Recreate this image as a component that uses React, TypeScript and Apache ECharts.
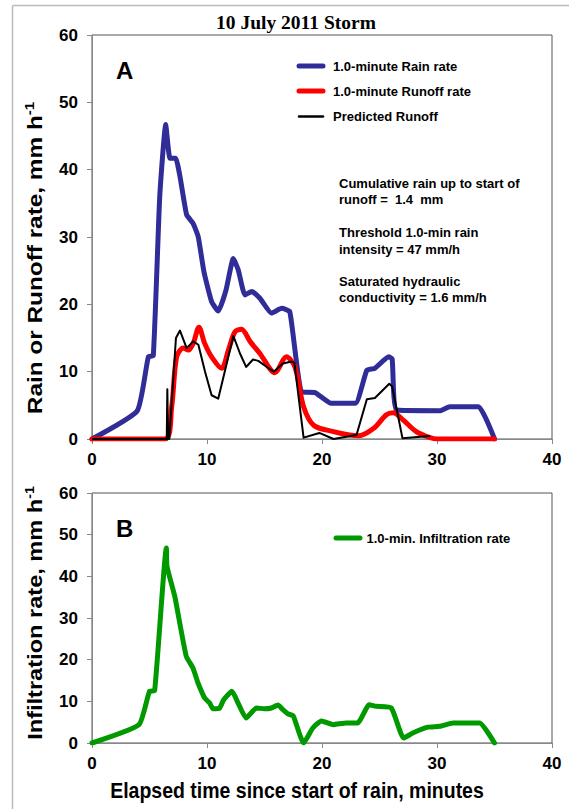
import React, { useEffect, useRef } from "react";
import * as echarts from "echarts";

const xTicks = [0, 10, 20, 30, 40];
const yTicks = [0, 10, 20, 30, 40, 50, 60];

const rainRate: [number, number][] = [
  [0, 0], [3.94, 4.2], [4.9, 12.2], [5.33, 12.4], [5.89, 36], [6.41, 46.7], [6.78, 41.7],
  [7.27, 41.7], [7.65, 39], [8.23, 33.3], [8.8, 32], [9.24, 30], [9.74, 24.8], [10.4, 20.4],
  [10.98, 19.0], [11.65, 22.1], [12.29, 26.8], [12.72, 25.1], [13.3, 21.4], [13.9, 21.9],
  [14.6, 20.9], [15.6, 18.7], [16.5, 19.4], [17.2, 18.9], [18.23, 7.0], [19.4, 6.9],
  [20.8, 5.3], [22.9, 5.3], [23.9, 10.2], [24.6, 10.5], [25.8, 12.2], [26.1, 11.9],
  [26.5, 4.3], [30.26, 4.2], [31.1, 4.8], [33.6, 4.8], [35.0, 0],
];

const runoffRate: [number, number][] = [
  [0, 0], [6.35, 0], [6.93, 4.8], [7.36, 12.2], [7.94, 13.5], [8.38, 13.2], [8.8, 14.2],
  [9.3, 16.6], [9.8, 14.2], [10.4, 12.2], [11.27, 10.5], [11.86, 13.2], [12.43, 15.9],
  [13.0, 16.3], [13.74, 14.5], [14.6, 12.7], [15.9, 9.85], [16.9, 12.2], [17.65, 10.7],
  [18.4, 4.8], [19.3, 2.0], [21.0, 1.1], [22.4, 0.6], [23.2, 0.5], [24.5, 1.6], [25.6, 3.6],
  [26.2, 3.9], [27.07, 2.8], [28.2, 1.1], [29.4, 0.2], [30, 0], [35, 0],
];

const predictedRunoff: [number, number][] = [
  [0, 0], [6.5, 0], [6.55, 7.4], [6.62, 0], [6.72, 0], [7.3, 15.0], [7.65, 16.1], [8.23, 13.5],
  [8.8, 14.5], [9.25, 14.0], [9.83, 10.0], [10.4, 6.5], [10.98, 6.0], [12.29, 15.3],
  [12.87, 12.7], [13.4, 10.7], [14.0, 11.8], [14.46, 11.6], [15.2, 10.7], [15.8, 10.0],
  [16.6, 11.2], [17.36, 11.5], [17.6, 11.3], [18.4, 0.2], [19.77, 0.9], [21.0, 0],
  [23.0, 0.6], [23.9, 5.9], [24.6, 6.1], [25.85, 8.2], [26.1, 7.8], [27.0, 0.1], [29.4, 0.45],
];

const infiltrationRate: [number, number][] = [
  [0, 0], [4.09, 4.4], [5.0, 12.4], [5.45, 12.6], [6.47, 46.8], [6.52, 42.4], [7.2, 35.2],
  [7.63, 28.8], [8.2, 20.8], [8.78, 18.0], [9.22, 14.4], [9.8, 10.8], [10.23, 9.6],
  [10.52, 8.2], [11.1, 8.4], [11.45, 10.4], [12.17, 12.4], [12.7, 9.6], [13.4, 6.0],
  [14.3, 8.4], [15.0, 8.2], [15.6, 8.4], [16.17, 9.1], [16.6, 8.0], [17.04, 7.0],
  [17.5, 6.5], [18.4, 0], [19.2, 3.6], [19.95, 5.3], [20.96, 4.4], [22.1, 4.8], [23.1, 4.8],
  [24.1, 9.2], [24.7, 8.8], [26.03, 8.4], [27.1, 1.2], [27.9, 2.4], [29.2, 3.8],
  [30.23, 4.0], [31.4, 4.8], [33.7, 4.8], [35.0, 0],
];

const seriesNames = [
  "1.0-minute Rain rate",
  "1.0-minute Runoff rate",
  "Predicted Runoff",
  "1.0-min. Infiltration rate",
];

const notes = [
  "Cumulative rain up to start of",
  "runoff =  1.4  mm",
  "Threshold 1.0-min rain",
  "intensity = 47 mm/h",
  "Saturated hydraulic",
  "conductivity = 1.6 mm/h",
];

const BLUE = "#302D99";
const RED = "#FF0000";
const GREEN = "#009900";
const FONT = "'Liberation Sans', Arial, Helvetica, sans-serif";

export default function App() {
  const ref = useRef<HTMLDivElement>(null);

  useEffect(() => {
    if (!ref.current) return;
    const chart = echarts.init(ref.current, undefined, { renderer: "svg" });

    const xAxisBase = (gridIndex: number) => ({
      type: "value" as const,
      gridIndex,
      min: xTicks[0],
      max: xTicks[xTicks.length - 1],
      interval: 10,
      splitLine: { show: false },
      axisLine: { show: true, lineStyle: { color: "#888", width: 1 } },
      axisTick: { show: true, inside: false, length: 5, lineStyle: { color: "#888" } },
      axisLabel: { fontFamily: FONT, fontWeight: "bold", fontSize: 17, color: "#000", margin: 12 },
    });
    const yAxisBase = (gridIndex: number) => ({
      type: "value" as const,
      gridIndex,
      min: yTicks[0],
      max: yTicks[yTicks.length - 1],
      interval: 10,
      splitLine: { show: false },
      axisLine: { show: true, lineStyle: { color: "#888", width: 1 } },
      axisTick: { show: true, inside: false, length: 5, lineStyle: { color: "#888" } },
      axisLabel: { fontFamily: FONT, fontWeight: "bold", fontSize: 17, color: "#000", margin: 14 },
    });

    const legendA = [
      { y: 66, color: BLUE, w: 5 },
      { y: 91, color: RED, w: 5 },
      { y: 116.5, color: "#000", w: 2.5 },
    ];
    const noteY = [183, 199.5, 232.5, 249, 281, 297.5];

    const graphics: any[] = [
      { type: "line", shape: { x1: 12.5, y1: 5.5, x2: 569, y2: 5.5 }, style: { stroke: "#BBB", lineWidth: 1.5 } },
      { type: "line", shape: { x1: 12.5, y1: 5.5, x2: 12.5, y2: 809 }, style: { stroke: "#BBB", lineWidth: 1.5 } },
      {
        type: "text", x: 296, y: 22,
        style: { text: "10 July 2011 Storm", font: "bold 19.5px 'Liberation Serif', 'Times New Roman', serif", fill: "#000", textAlign: "center", textVerticalAlign: "middle" },
      },
      {
        type: "text", x: 116, y: 70.5,
        style: { text: "A", font: `bold 24px ${FONT}`, fill: "#000", textAlign: "left", textVerticalAlign: "middle" },
      },
      {
        type: "text", x: 116, y: 528.5,
        style: { text: "B", font: `bold 24px ${FONT}`, fill: "#000", textAlign: "left", textVerticalAlign: "middle" },
      },
      {
        type: "text", x: 35, y: 258, rotation: Math.PI / 2, scaleX: 1.16,
        style: {
          text: "Rain or Runoff rate, mm h{sup|-1}", fill: "#000",
          font: `bold 21px ${FONT}`, textAlign: "center", textVerticalAlign: "middle",
          rich: { sup: { fontFamily: FONT, fontWeight: "bold", fontSize: 13, verticalAlign: "top", lineHeight: 13 } },
          lineHeight: 24,
        },
      },
      {
        type: "text", x: 35, y: 613, rotation: Math.PI / 2, scaleX: 1.18,
        style: {
          text: "Infiltration rate, mm h{sup|-1}", fill: "#000",
          font: `bold 20px ${FONT}`, textAlign: "center", textVerticalAlign: "middle",
          rich: { sup: { fontFamily: FONT, fontWeight: "bold", fontSize: 12, verticalAlign: "top", lineHeight: 12 } },
          lineHeight: 23,
        },
      },
      {
        type: "text", x: 297, y: 790.5, scaleY: 1.12,
        style: { text: "Elapsed time since start of rain, minutes", font: `bold 19.5px ${FONT}`, fill: "#000", textAlign: "center", textVerticalAlign: "middle" },
      },
      ...legendA.flatMap((l, i) => [
        { type: "line", shape: { x1: 299, y1: l.y, x2: 323, y2: l.y }, style: { stroke: l.color, lineWidth: l.w, lineCap: "round" } },
        { type: "text", x: 333, y: l.y, style: { text: seriesNames[i], font: `bold 13px ${FONT}`, fill: "#000", textVerticalAlign: "middle" } },
      ]),
      { type: "line", shape: { x1: 336, y1: 538, x2: 360, y2: 538 }, style: { stroke: GREEN, lineWidth: 5, lineCap: "round" } },
      { type: "text", x: 366.5, y: 538, style: { text: seriesNames[3], font: `bold 13px ${FONT}`, fill: "#000", textVerticalAlign: "middle" } },
      ...notes.map((t, i) => ({
        type: "text", x: 339, y: noteY[i],
        style: { text: t, font: `bold 13px ${FONT}`, fill: "#000", textVerticalAlign: "middle" },
      })),
    ];

    chart.setOption({
      animation: false,
      backgroundColor: "#fff",
      grid: [
        { left: 92, top: 35, width: 460, height: 404, show: true, borderColor: "#555", borderWidth: 1, backgroundColor: "transparent" },
        { left: 92, top: 493, width: 460, height: 250, show: true, borderColor: "#555", borderWidth: 1, backgroundColor: "transparent" },
      ],
      xAxis: [xAxisBase(0), xAxisBase(1)],
      yAxis: [yAxisBase(0), yAxisBase(1)],
      series: [
        {
          name: seriesNames[0], type: "line", xAxisIndex: 0, yAxisIndex: 0, data: rainRate,
          symbol: "none", smooth: 0.15, z: 2,
          lineStyle: { color: BLUE, width: 5, cap: "round", join: "round" },
        },
        {
          name: seriesNames[1], type: "line", xAxisIndex: 0, yAxisIndex: 0, data: runoffRate,
          symbol: "none", smooth: 0.3, z: 3,
          lineStyle: { color: RED, width: 5, cap: "round", join: "round" },
        },
        {
          name: seriesNames[2], type: "line", xAxisIndex: 0, yAxisIndex: 0, data: predictedRunoff,
          symbol: "none", smooth: false, z: 4,
          lineStyle: { color: "#000", width: 2, join: "round" },
        },
        {
          name: seriesNames[3], type: "line", xAxisIndex: 1, yAxisIndex: 1, data: infiltrationRate,
          symbol: "none", smooth: 0.15,
          lineStyle: { color: GREEN, width: 5, cap: "round", join: "round" },
        },
      ],
      graphic: graphics,
    });

    return () => chart.dispose();
  }, []);

  return (
    <div
      ref={ref}
      style={{ position: "fixed", left: 0, top: 0, width: 569, height: 809, background: "#fff" }}
    />
  );
}
